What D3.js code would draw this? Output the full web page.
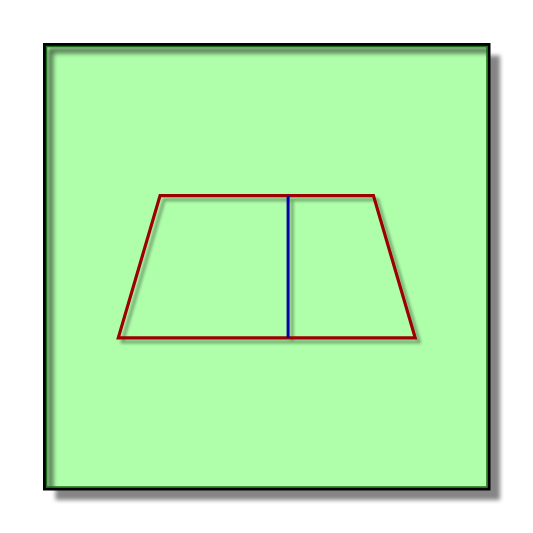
<!DOCTYPE html>
<html>
<head>
<meta charset="utf-8">
<script src="https://cdn.jsdelivr.net/npm/d3@7"></script>
<style>
  body { margin: 0; background: #fff; }
</style>
</head>
<body>
<div id="chart"></div>
<script>
// outline of the trapezoid, in plot units (0..100 both ways)
var shapeX = [16.6, 26, 74, 83.4];
var shapeY = [34, 66, 66, 34];
// the vertical divider
var lineX = [54.8, 54.8];
var lineY = [34, 66];
var frameX = [0, 100];
var frameY = [0, 100];

var width = 533, height = 533;

var x = d3.scaleLinear().domain([0, 100]).range([44.5, 489]);
var y = d3.scaleLinear().domain([0, 100]).range([489, 44.5]);

var svg = d3.select("#chart")
    .append("svg")
    .attr("width", width)
    .attr("height", height);

var defs = svg.append("defs");

// gray shadow under the panel
var f1 = defs.append("filter").attr("id", "panelShadow")
    .attr("x", "-10%").attr("y", "-10%").attr("width", "130%").attr("height", "130%");
f1.append("feFlood").attr("flood-color", "#858585").attr("result", "c");
f1.append("feComposite").attr("in", "c").attr("in2", "SourceAlpha").attr("operator", "in").attr("result", "s");
f1.append("feGaussianBlur").attr("in", "s").attr("stdDeviation", 2).attr("result", "b");
f1.append("feOffset").attr("in", "b").attr("dx", 11).attr("dy", 11).attr("result", "o");
var m1 = f1.append("feMerge");
m1.append("feMergeNode").attr("in", "o");
m1.append("feMergeNode").attr("in", "SourceGraphic");

// soft shadow for the lines
var f2 = defs.append("filter").attr("id", "lineShadow")
    .attr("x", "-20%").attr("y", "-20%").attr("width", "140%").attr("height", "140%");
f2.append("feFlood").attr("flood-color", "#000").attr("flood-opacity", 0.35).attr("result", "c");
f2.append("feComposite").attr("in", "c").attr("in2", "SourceAlpha").attr("operator", "in").attr("result", "s");
f2.append("feGaussianBlur").attr("in", "s").attr("stdDeviation", 1.5).attr("result", "b");
f2.append("feOffset").attr("in", "b").attr("dx", 4).attr("dy", 4).attr("result", "o");
var m2 = f2.append("feMerge");
m2.append("feMergeNode").attr("in", "o");
m2.append("feMergeNode").attr("in", "SourceGraphic");

// blurred offset copy of the frame, only kept inside the panel
var f3 = defs.append("filter").attr("id", "frameShadow")
    .attr("x", "-10%").attr("y", "-10%").attr("width", "130%").attr("height", "130%");
f3.append("feGaussianBlur").attr("in", "SourceGraphic").attr("stdDeviation", 2.5).attr("result", "b");
f3.append("feOffset").attr("in", "b").attr("dx", 6).attr("dy", 6);

defs.append("clipPath").attr("id", "inside")
    .append("rect")
    .attr("x", x(frameX[0]))
    .attr("y", y(frameY[1]))
    .attr("width", x(frameX[1]) - x(frameX[0]))
    .attr("height", y(frameY[0]) - y(frameY[1]));

// panel fill
svg.append("rect")
    .attr("x", x(frameX[0]))
    .attr("y", y(frameY[1]))
    .attr("width", x(frameX[1]) - x(frameX[0]))
    .attr("height", y(frameY[0]) - y(frameY[1]))
    .attr("fill", "#afffaa")
    .attr("filter", "url(#panelShadow)");

// frame shadow on the green
svg.append("g").attr("clip-path", "url(#inside)")
    .append("rect")
    .attr("x", x(frameX[0]))
    .attr("y", y(frameY[1]))
    .attr("width", x(frameX[1]) - x(frameX[0]))
    .attr("height", y(frameY[0]) - y(frameY[1]))
    .attr("fill", "none")
    .attr("stroke", "#000")
    .attr("stroke-opacity", 0.6)
    .attr("stroke-width", 5)
    .attr("filter", "url(#frameShadow)");

// frame
svg.append("rect")
    .attr("x", x(frameX[0]))
    .attr("y", y(frameY[1]))
    .attr("width", x(frameX[1]) - x(frameX[0]))
    .attr("height", y(frameY[0]) - y(frameY[1]))
    .attr("fill", "none")
    .attr("stroke", "#000")
    .attr("stroke-width", 3);
svg.append("rect")
    .attr("x", x(frameX[0]) + 2)
    .attr("y", y(frameY[1]) + 2)
    .attr("width", x(frameX[1]) - x(frameX[0]) - 4)
    .attr("height", y(frameY[0]) - y(frameY[1]) - 4)
    .attr("fill", "none")
    .attr("stroke", "#1c6a1c")
    .attr("stroke-width", 1.5);

var pts = shapeX.map(function (d, i) { return [x(d), y(shapeY[i])]; });

var g = svg.append("g").attr("filter", "url(#lineShadow)");

g.append("path")
    .attr("d", d3.line()(pts) + "Z")
    .attr("fill", "none")
    .attr("stroke", "#9c0000")
    .attr("stroke-width", 3.2)
    .attr("stroke-linejoin", "miter");

g.append("path")
    .attr("d", d3.line()(lineX.map(function (d, i) { return [x(d), y(lineY[i])]; })))
    .attr("fill", "none")
    .attr("stroke", "#0000a8")
    .attr("stroke-width", 3);
</script>
</body>
</html>
